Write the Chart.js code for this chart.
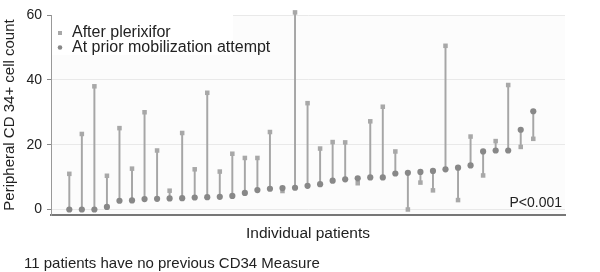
<!DOCTYPE html>
<html>
<head>
<meta charset="utf-8">
<script src="https://cdn.jsdelivr.net/npm/chart.js@4/dist/chart.umd.min.js"></script>
<style>
  html, body { margin: 0; padding: 0; background: #fff; }
  #wrap { width: 600px; height: 272px; }
</style>
</head>
<body>
<div id="wrap"><canvas id="cd34-chart" width="600" height="272"></canvas></div>
<script>
// patient index along the x axis
const patients = [1, 2, 3, 4, 5, 6, 7, 8, 9, 10, 11, 12, 13, 14, 15, 16, 17, 18, 19, 20,
  21, 22, 23, 24, 25, 26, 27, 28, 29, 30, 31, 32, 33, 34, 35, 36, 37, 38];

// CD34+ count after plerixafor (squares)
const afterPlerixifor = [11.0, 23.3, 38.0, 10.4, 25.1, 12.6, 30.0, 18.2, 5.8, 23.6,
  12.4, 36.0, 11.7, 17.2, 15.9, 15.9, 23.9, 5.7, 60.8, 32.8,
  18.8, 20.8, 20.7, 8.1, 27.2, 31.7, 17.9, 0.0, 8.3, 5.9,
  50.5, 2.9, 22.5, 10.5, 21.1, 38.4, 19.3, 21.8];

// CD34+ count at the earlier mobilization attempt (circles)
const priorAttempt = [0.0, 0.0, 0.0, 0.8, 2.7, 2.8, 3.2, 3.3, 3.4, 3.5,
  3.7, 3.8, 3.9, 4.2, 5.1, 6.0, 6.4, 6.6, 6.7, 7.3,
  7.8, 8.9, 9.3, 9.6, 9.9, 9.9, 11.1, 11.3, 11.6, 11.9,
  12.4, 12.9, 13.6, 17.9, 18.2, 18.2, 24.6, 30.3];

const yTicks = [0, 20, 40, 60];
const seriesNames = ['After plerixifor', 'At prior mobilization attempt'];
const footnote = '11 patients have no previous CD34 Measure';
const pValue = 'P<0.001';

const FONT = '"Liberation Sans", Arial, sans-serif';
const SQUARE = '#a8a8a8';
const DOT = '#888888';
const STEM = '#a6a6a6';
const TEXT = '#222222';

// plot background, legend box and the free text
const extras = {
  id: 'extras',
  beforeDraw(chart) {
    const { ctx, chartArea: a } = chart;
    ctx.save();
    ctx.fillStyle = '#fcfcfc';
    ctx.fillRect(a.left, a.top, a.right - a.left, a.bottom - a.top);
    ctx.restore();
  },
  afterDraw(chart) {
    const { ctx, chartArea: a } = chart;
    ctx.save();
    // legend inside the plot
    ctx.fillStyle = '#ffffff';
    ctx.fillRect(a.left + 1, a.top - 2, 181, 42);
    ctx.fillStyle = SQUARE;
    ctx.fillRect(58, 31, 4, 4);
    ctx.fillStyle = DOT;
    ctx.beginPath();
    ctx.arc(60, 47.5, 2.3, 0, Math.PI * 2);
    ctx.fill();
    ctx.fillStyle = TEXT;
    ctx.font = '16px ' + FONT;
    ctx.textBaseline = 'middle';
    ctx.textAlign = 'left';
    ctx.fillText(seriesNames[0], 72, 33);
    ctx.fillText(seriesNames[1], 72, 48);
    // p value
    ctx.font = '14px ' + FONT;
    ctx.textAlign = 'right';
    ctx.fillText(pValue, 562, 203);
    // footnote
    ctx.font = '15px ' + FONT;
    ctx.textAlign = 'left';
    ctx.fillText(footnote, 24, 264);
    ctx.restore();
  }
};

const ctx = document.getElementById('cd34-chart').getContext('2d');

new Chart(ctx, {
  type: 'bar',
  data: {
    datasets: [
      {
        type: 'scatter',
        label: seriesNames[1],
        data: patients.map((p, i) => ({ x: p, y: priorAttempt[i] })),
        pointStyle: 'circle',
        pointRadius: 3.1,
        pointHoverRadius: 3.1,
        backgroundColor: DOT,
        borderWidth: 0,
        clip: false,
        order: 0
      },
      {
        type: 'scatter',
        label: seriesNames[0],
        data: patients.map((p, i) => ({ x: p, y: afterPlerixifor[i] })),
        pointStyle: 'rect',
        pointRadius: 3.2,
        pointHoverRadius: 3.2,
        backgroundColor: SQUARE,
        borderWidth: 0,
        clip: false,
        order: 1
      },
      {
        type: 'bar',
        label: 'stem',
        data: patients.map((p, i) => ({ x: p, y: [priorAttempt[i], afterPlerixifor[i]] })),
        backgroundColor: STEM,
        borderWidth: 0,
        barThickness: 1.3,
        grouped: false,
        clip: false,
        order: 2
      }
    ]
  },
  plugins: [extras],
  options: {
    responsive: false,
    animation: false,
    events: [],
    layout: { padding: { left: 0, right: 35, top: 15, bottom: 0 } },
    plugins: {
      legend: { display: false },
      tooltip: { enabled: false }
    },
    scales: {
      x: {
        type: 'linear',
        min: -0.46,
        max: 40.53,
        offset: false,
        ticks: { display: false },
        grid: { color: 'rgba(0,0,0,0)', drawTicks: false },
        border: { display: true, color: '#777777', width: 2 },
        title: {
          display: true,
          text: 'Individual patients',
          color: TEXT,
          font: { family: FONT, size: 15.5 },
          padding: { top: 0, bottom: 29 }
        },
        afterFit(scale) { scale.height = 57; }
      },
      y: {
        min: -1.7,
        max: 60,
        afterBuildTicks(scale) { scale.ticks = yTicks.map(v => ({ value: v })); },
        ticks: {
          color: TEXT,
          padding: 5,
          font: { family: FONT, size: 14 }
        },
        grid: { color: '#e9e9e9', tickLength: 4, tickColor: '#888888' },
        border: { display: true, color: '#999999', width: 1 },
        title: {
          display: true,
          text: 'Peripheral CD 34+ cell count',
          color: TEXT,
          font: { family: FONT, size: 15 },
          padding: { top: 1, bottom: 0 }
        },
        afterFit(scale) { scale.width = 51; }
      }
    }
  }
});
</script>
</body>
</html>
